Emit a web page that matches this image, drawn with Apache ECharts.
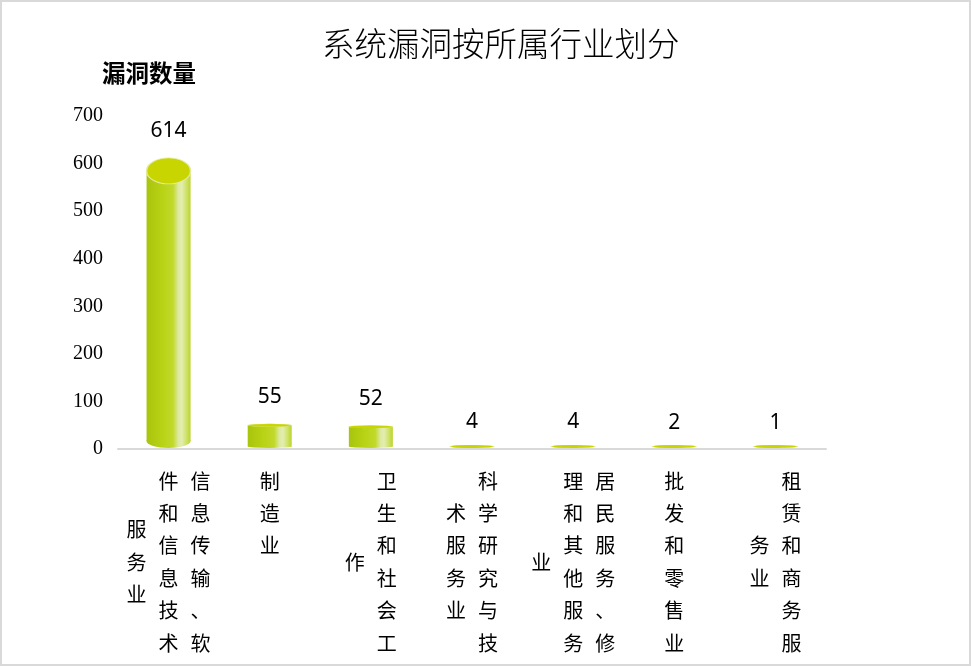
<!DOCTYPE html>
<html><head><meta charset="utf-8">
<script src="https://cdn.jsdelivr.net/npm/echarts@6/dist/echarts.min.js"></script>
<style>
html,body{margin:0;padding:0;background:#fff}
#c{width:971px;height:666px;position:absolute;left:0;top:0}
#b{position:absolute;left:0;top:0;width:971px;height:666px;box-sizing:border-box;border:2px solid #d9d9d9;pointer-events:none}
</style></head><body><div id="c"></div><div id="b"></div>
<script>
const chartTitle = '系统漏洞按所属行业划分';
const yAxisName = '漏洞数量';
const categories = ['信息传输、软件和信息技术服务业','制造业','卫生和社会工作','科学研究与技术服务业','居民服务、修理和其他服务业','批发和零售业','租赁和商务服务业'];
const counts = [614, 55, 52, 4, 4, 2, 1];
const yMin = 0, yMax = 700, yInterval = 100;
const CHARS_PER_COL = 6;

function verticalLabel(name){
  const chars = Array.from(name);
  const cols = [];
  for (let i = 0; i < chars.length; i += CHARS_PER_COL) cols.push(chars.slice(i, i + CHARS_PER_COL));
  const maxLen = Math.max(...cols.map(c => c.length));
  const ordered = cols.slice().reverse();
  const nLines = 2 * maxLen - 1;
  const lines = [];
  for (let j = 0; j < nLines; j++) {
    let s = '';
    for (const col of ordered) {
      const off = maxLen - col.length;
      const k = (j - off) / 2;
      const ch = (Number.isInteger(k) && k >= 0 && k < col.length) ? col[k] : '\u3000';
      s += '{c|' + ch + '}';
    }
    lines.push(s);
  }
  return lines.join('\n');
}

const bodyStops = [
  {offset: 0, color: '#a8c40c'},
  {offset: 0.35, color: '#b8d215'},
  {offset: 0.6, color: '#c1d92a'},
  {offset: 0.72, color: '#dde9a0'},
  {offset: 0.8, color: '#e3edb0'},
  {offset: 0.9, color: '#d0e36c'},
  {offset: 1, color: '#bcd42c'}
];

function renderCylinder(params, api){
  const idx = api.value(0), v = api.value(1);
  const p = api.coord([idx, v]);
  const p0 = api.coord([idx, 0]);
  const w = 44;
  const cx = p[0];
  const base = p0[1] - 1;
  const top = Math.min(p[1] + 1, base - 3);
  const h = base - top;
  const eh = Math.max(3, Math.min(26, h * 0.09));
  const bh = Math.max(3, Math.min(14, h * 0.05));
  const grad = () => new echarts.graphic.LinearGradient(0, 0, 1, 0, bodyStops);
  const bodyTop = top + eh / 2, bodyBot = base - bh / 2;
  return {
    type: 'group',
    children: [
      {type: 'circle', x: cx, y: bodyBot, scaleY: bh / w, shape: {cx: 0, cy: 0, r: w / 2}, style: {fill: grad()}},
      {type: 'rect', shape: {x: cx - w / 2, y: bodyTop, width: w, height: Math.max(0, bodyBot - bodyTop)}, style: {fill: grad()}},
      {type: 'circle', x: cx, y: bodyTop, scaleY: eh / w, shape: {cx: 0, cy: 0, r: w / 2},
        style: {fill: '#c8d500', stroke: '#e2eb9c', lineWidth: 1.5, strokeNoScale: true}}
    ]
  };
}

const chart = echarts.init(document.getElementById('c'));
chart.setOption({
  animation: false,
  backgroundColor: '#fff',
  title: [
    {text: chartTitle, left: 317, top: 22,
      textStyle: {fontFamily: 'Noto Sans CJK SC', fontWeight: 300, fontSize: 32.5, color: '#000'}},
    {text: yAxisName, left: 97, top: 56,
      textStyle: {fontFamily: 'Noto Sans CJK SC', fontWeight: 'bold', fontSize: 23.5, color: '#000'}}
  ],
  grid: {left: 118, right: 145, top: 116, bottom: 217},
  xAxis: {
    type: 'category',
    data: categories,
    axisLine: {lineStyle: {color: '#d9d9d9', width: 2}},
    axisTick: {show: false},
    axisLabel: {
      interval: 0,
      margin: 24,
      hideOverlap: false,
      formatter: verticalLabel,
      rich: {c: {fontFamily: 'Noto Sans CJK SC', fontSize: 20, lineHeight: 16.2, width: 32, align: 'center', color: '#000'}}
    }
  },
  yAxis: {
    type: 'value', min: yMin, max: yMax, interval: yInterval,
    axisLine: {show: false}, axisTick: {show: false}, splitLine: {show: false},
    axisLabel: {fontFamily: 'Liberation Serif', fontSize: 20, color: '#000', margin: 15, padding: [4, 0, 0, 0]}
  },
  series: [
    {
      type: 'custom',
      renderItem: renderCylinder,
      data: counts.map((v, i) => [i, v]),
      encode: {x: 0, y: 1},
      silent: true, z: 2
    },
    {
      type: 'bar',
      data: counts,
      barWidth: 44,
      itemStyle: {color: 'rgba(0,0,0,0)'},
      silent: true, z: 3,
      label: {show: true, position: 'top', distance: 15, color: '#000', fontSize: 21, fontFamily: 'Noto Sans'}
    }
  ]
});
</script></body></html>
